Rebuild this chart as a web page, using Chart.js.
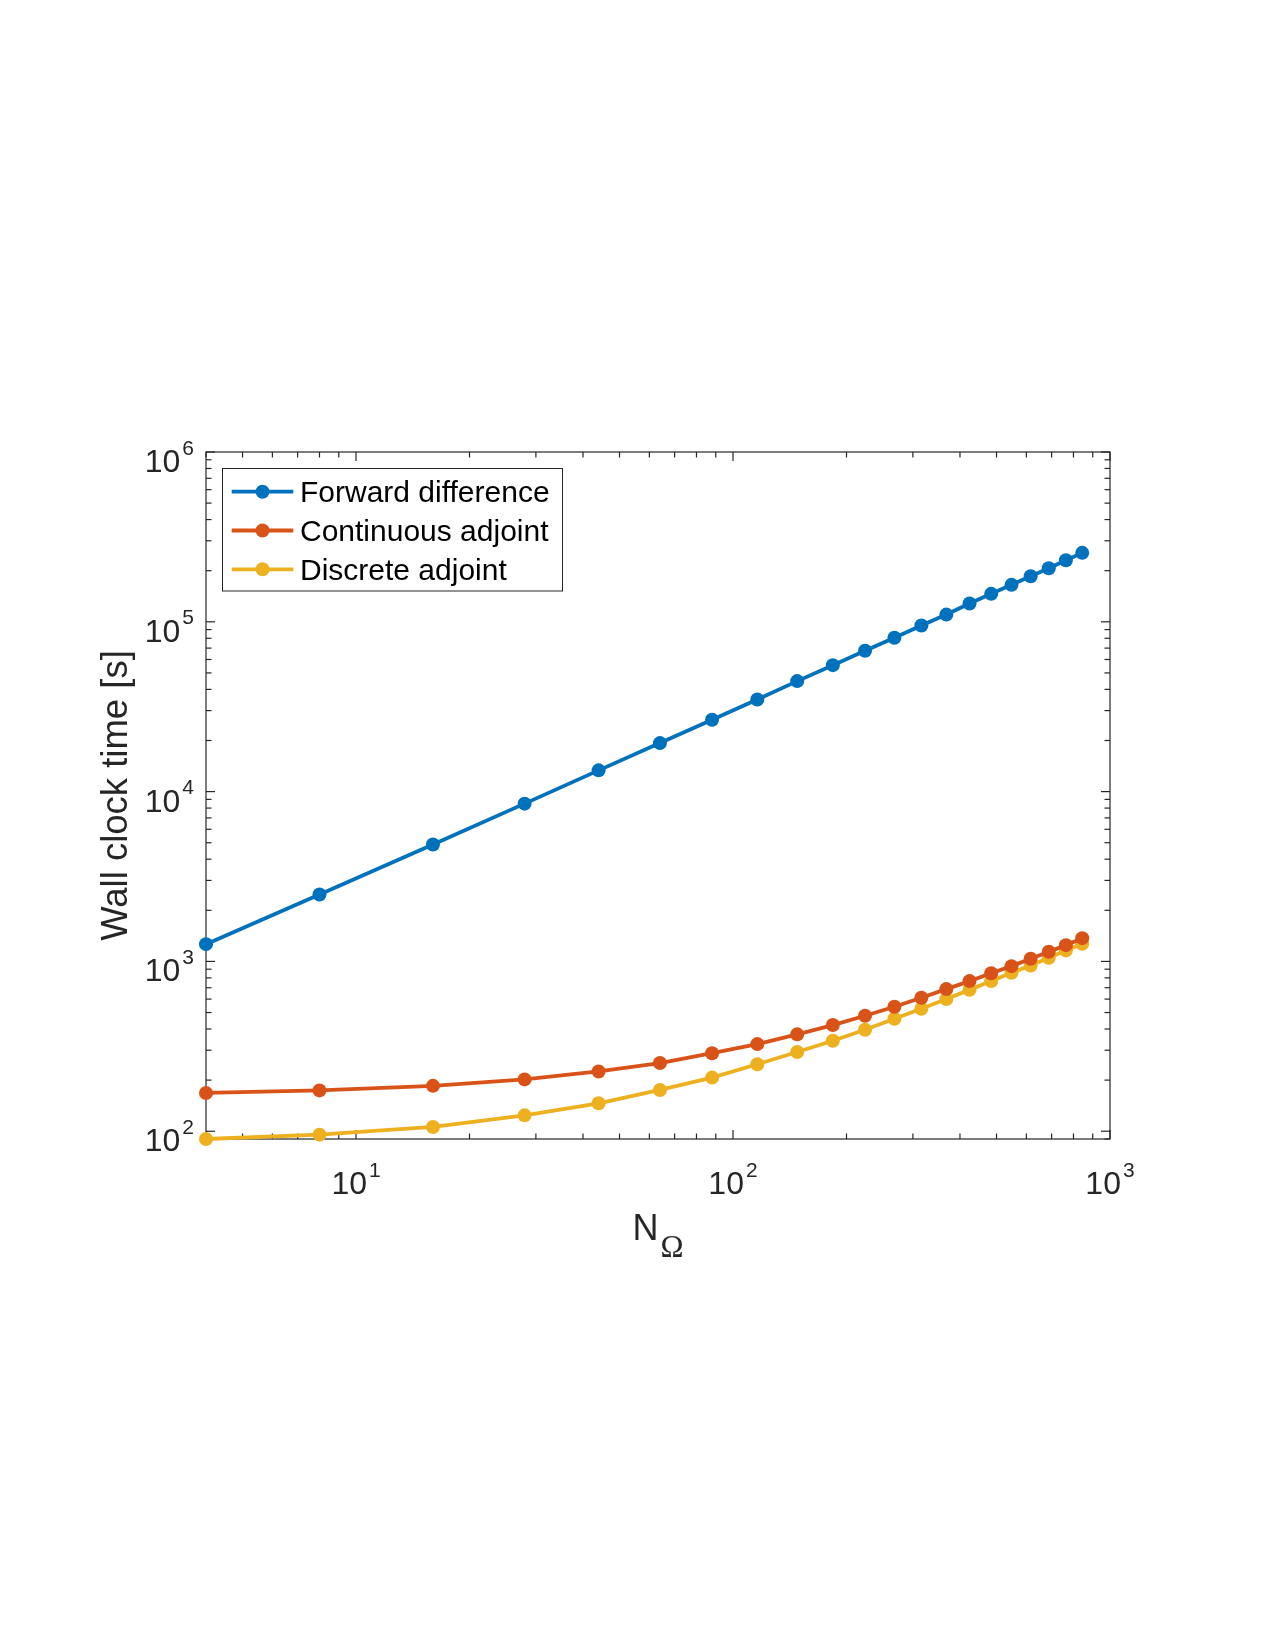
<!DOCTYPE html>
<html>
<head>
<meta charset="utf-8">
<script src="https://cdn.jsdelivr.net/npm/chart.js@4.4.0/dist/chart.umd.min.js"></script>
<style>
  body { margin: 0; background: #ffffff; }
  canvas { display: block; }
</style>
</head>
<body>
<canvas id="grafico" width="1275" height="1650"></canvas>
<script>
// valores
const nOmega = [4, 8, 16, 28, 44, 64, 88, 116, 148, 184, 224, 268, 316, 368, 424, 484, 548, 616, 688, 764, 844];
const forwardDiff = [1264, 2477, 4878, 8496, 13340, 19310, 26520, 34900, 44740, 55550, 67600, 80500, 95100, 110300, 128100, 146100, 165100, 185400, 206600, 230300, 254700];
const contAdjoint = [168, 174, 185, 202, 225, 252, 288, 326, 372, 422, 479, 541, 611, 687, 766, 851, 938, 1036, 1139, 1247, 1371];
const discAdjoint = [90, 95.5, 106, 124, 146, 175, 207, 248, 293, 341, 396, 460, 526, 600, 680, 766, 857, 947, 1050, 1161, 1269];

const nomes = ['Forward difference', 'Continuous adjoint', 'Discrete adjoint'];
const cores = ['#0072BD', '#D95319', '#EDB120'];

// ticks
const xMajor = [10, 100, 1000];
const xTickLabels = [['10', '1'], ['10', '2'], ['10', '3']];
const yMajor = [100, 1000, 10000, 100000, 1000000];
const yTickLabels = [['10', '2'], ['10', '3'], ['10', '4'], ['10', '5'], ['10', '6']];
const xDecadas = [1, 10, 100];
const yDecadas = [10, 100, 1000, 10000, 100000];
const multMenores = [2, 3, 4, 5, 6, 7, 8, 9];

const FONTE = '"Liberation Sans", Arial, Helvetica, sans-serif';
const COR_EIXO = '#262626';

const pontos = (ys) => nOmega.map((x, i) => ({ x: x, y: ys[i] }));

function desenharPotencia(ctx, partes, xPos, yTick, alinhamento, eixo) {
    ctx.font = '32px ' + FONTE;
    const wBase = ctx.measureText(partes[0]).width;
    ctx.font = '21px ' + FONTE;
    const wExp = ctx.measureText(partes[1]).width;
    const total = wBase + 2 + wExp;
    let x0 = alinhamento === 'right' ? xPos - total : xPos - total / 2;
    let baseY, expY;
    if (eixo === 'y') { baseY = yTick + 20; expY = yTick + 2.5; }
    else { baseY = yTick; expY = yTick - 17; }
    ctx.textAlign = 'left';
    ctx.textBaseline = 'alphabetic';
    ctx.font = '32px ' + FONTE;
    ctx.fillText(partes[0], x0, baseY);
    ctx.font = '21px ' + FONTE;
    ctx.fillText(partes[1], x0 + wBase + 2, expY);
}

const eixos = {
    id: 'eixos',
    beforeDatasetsDraw(chart) {
        const { ctx, chartArea: a, scales: { x, y } } = chart;
        ctx.save();
        ctx.strokeStyle = COR_EIXO;
        ctx.fillStyle = COR_EIXO;
        ctx.lineWidth = 1.2;

        const linha = (x1, y1, x2, y2) => { ctx.beginPath(); ctx.moveTo(x1, y1); ctx.lineTo(x2, y2); ctx.stroke(); };
        const tickX = (v, len) => {
            const px = x.getPixelForValue(v);
            if (px < a.left - 0.5 || px > a.right + 0.5) return;
            linha(px, a.bottom, px, a.bottom - len);
            linha(px, a.top, px, a.top + len);
        };
        const tickY = (v, len) => {
            const py = y.getPixelForValue(v);
            if (py < a.top - 0.5 || py > a.bottom + 0.5) return;
            linha(a.left, py, a.left + len, py);
            linha(a.right, py, a.right - len, py);
        };

        xDecadas.forEach(d => multMenores.forEach(m => tickX(d * m, 5.5)));
        xMajor.forEach(v => tickX(v, 9));
        yDecadas.forEach(d => multMenores.forEach(m => tickY(d * m, 5.5)));
        yMajor.forEach(v => tickY(v, 9));

        ctx.strokeRect(a.left, a.top, a.right - a.left, a.bottom - a.top);

        // rotulos dos ticks
        xMajor.forEach((v, i) => desenharPotencia(ctx, xTickLabels[i], x.getPixelForValue(v), a.bottom + 55, 'center', 'x'));
        yMajor.forEach((v, i) => desenharPotencia(ctx, yTickLabels[i], a.left - 12, y.getPixelForValue(v), 'right', 'y'));

        // titulo do eixo x: N com subscrito Omega
        ctx.font = '36px ' + FONTE;
        const wN = ctx.measureText('N').width;
        ctx.font = '31px "Liberation Serif", "Times New Roman", serif';
        const wO = ctx.measureText('\u03A9').width;
        const cx = (a.left + a.right) / 2;
        let xi = cx - (wN + 2 + wO) / 2;
        ctx.textAlign = 'left';
        ctx.textBaseline = 'alphabetic';
        ctx.font = '36px ' + FONTE;
        ctx.fillText('N', xi, a.bottom + 101);
        ctx.font = '31px "Liberation Serif", "Times New Roman", serif';
        ctx.fillText('\u03A9', xi + wN + 2, a.bottom + 118);

        // titulo do eixo y
        ctx.save();
        ctx.translate(127, (a.top + a.bottom) / 2);
        ctx.rotate(-Math.PI / 2);
        ctx.textAlign = 'center';
        ctx.font = '36.5px ' + FONTE;
        ctx.fillText('Wall clock time [s]', 0, 0);
        ctx.restore();

        ctx.restore();
    }
};

const legenda = {
    id: 'legenda',
    afterDraw(chart) {
        const ctx = chart.ctx;
        ctx.save();
        ctx.fillStyle = '#ffffff';
        ctx.fillRect(222.5, 468.5, 340, 122.5);
        ctx.strokeStyle = COR_EIXO;
        ctx.lineWidth = 1;
        ctx.strokeRect(222.5, 468.5, 340, 122.5);
        chart.data.datasets.forEach((ds, i) => {
            const yy = 491.7 + i * 38.8;
            ctx.strokeStyle = ds.borderColor;
            ctx.lineWidth = 3.8;
            ctx.beginPath();
            ctx.moveTo(231.7, yy);
            ctx.lineTo(293.3, yy);
            ctx.stroke();
            ctx.fillStyle = ds.borderColor;
            ctx.beginPath();
            ctx.arc(262.5, yy, 7, 0, Math.PI * 2);
            ctx.fill();
            ctx.fillStyle = '#000000';
            ctx.font = '30px ' + FONTE;
            ctx.textAlign = 'left';
            ctx.textBaseline = 'alphabetic';
            ctx.fillText(ds.label, 300, yy + 10.5);
        });
        ctx.restore();
    }
};

const series = [forwardDiff, contAdjoint, discAdjoint];

const grafico = new Chart(document.getElementById('grafico').getContext('2d'), {
    type: 'line',
    data: {
        datasets: series.map((s, i) => ({
            label: nomes[i],
            data: pontos(s),
            borderColor: cores[i],
            backgroundColor: cores[i],
            pointBackgroundColor: cores[i],
            pointBorderWidth: 0,
            pointRadius: 7,
            borderWidth: 3.8,
            tension: 0,
            fill: false,
            clip: false
        }))
    },
    options: {
        responsive: false,
        animation: false,
        devicePixelRatio: 1,
        layout: { padding: { left: 206, top: 452, right: 165, bottom: 511 } },
        plugins: { legend: { display: false }, tooltip: { enabled: false } },
        scales: {
            x: { type: 'logarithmic', min: 4, max: 1000, display: false },
            y: { type: 'logarithmic', min: 90, max: 1000000, display: false }
        }
    },
    plugins: [eixos, legenda]
});
</script>
</body>
</html>
